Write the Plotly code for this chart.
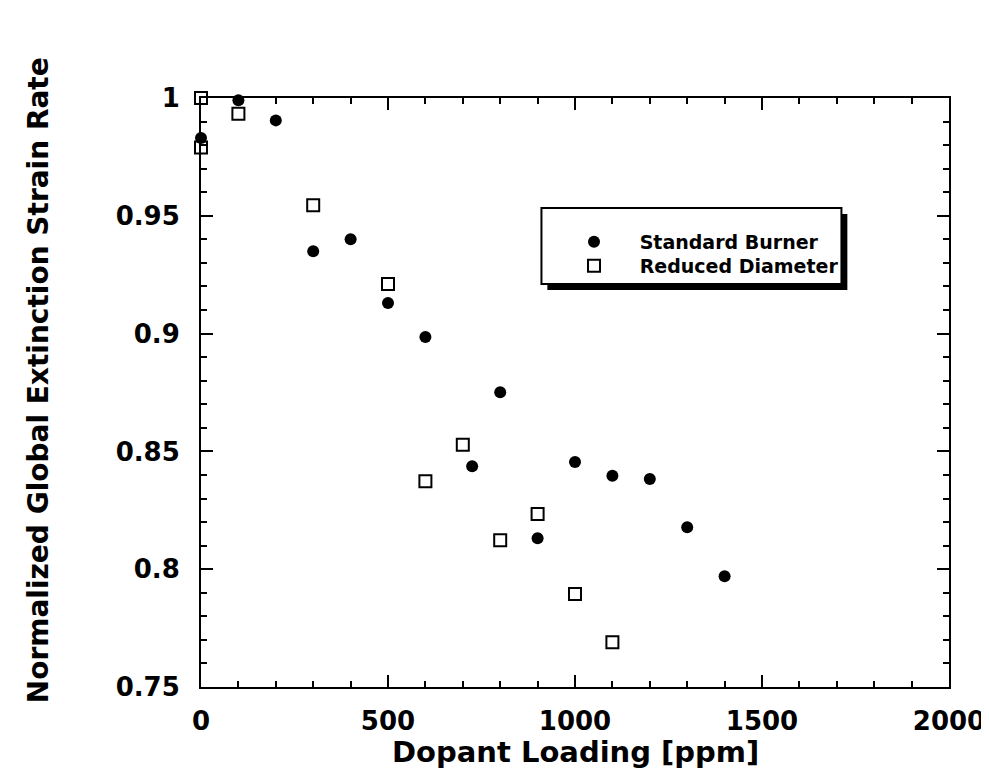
import plotly.graph_objects as go

# Standard burner data
std_x = [0, 100, 200, 300, 400, 500, 600, 725, 800, 900, 1000, 1100, 1200, 1300, 1400]
std_y = [0.983, 0.999, 0.9905, 0.935, 0.940, 0.913, 0.8986, 0.8437, 0.8751, 0.8131,
         0.8455, 0.8397, 0.8383, 0.8178, 0.797]

# Reduced diameter data
red_x = [0, 0, 100, 300, 500, 600, 700, 800, 900, 1000, 1100]
red_y = [1.0, 0.979, 0.9933, 0.9545, 0.921, 0.8373, 0.8528, 0.8123, 0.8234, 0.7895, 0.769]

FONT = "DejaVu Sans"
W, H = 989, 783
L, R, T, B = 193, 38, 90, 104


def px(x):
    return (x - L) / (W - L - R)


def py(y):
    return (H - B - y) / (H - T - B)


gap = '\u2002\u2002\u00a0'
fig = go.Figure()
fig.add_trace(go.Scatter(x=std_x, y=std_y, mode='markers', name=gap + 'Standard Burner',
                         marker=dict(symbol='circle', size=12, color='black'),
                         cliponaxis=False, legend='legend'))
fig.add_trace(go.Scatter(x=red_x, y=red_y, mode='markers', name=gap + 'Reduced Diameter',
                         marker=dict(symbol='square-open', size=12, color='black',
                                     line=dict(width=2, color='black')),
                         cliponaxis=False, legend='legend2'))

axis_common = dict(showline=True, linecolor='black', linewidth=2, mirror='ticks',
                   ticks='inside', ticklen=12, tickwidth=2, tickcolor='black',
                   showgrid=False, zeroline=False,
                   tickfont=dict(family=FONT, size=26, color='black', weight='bold'))

fig.update_xaxes(range=[0, 2000], dtick=500, tick0=0, ticklabelstandoff=10,
                 minor=dict(dtick=100, ticks='inside', ticklen=6, tickwidth=2, tickcolor='black'),
                 **axis_common)
fig.update_yaxes(range=[0.75, 1], dtick=0.05, tick0=0.75, ticklabelstandoff=14,
                 minor=dict(dtick=0.01, ticks='inside', ticklen=6, tickwidth=2, tickcolor='black'),
                 **axis_common)

# legend box with drop shadow
fig.add_shape(type='rect', xref='paper', yref='paper',
              x0=px(544), x1=px(848), y0=py(282), y1=py(206),
              fillcolor='black', line=dict(width=0), layer='above')
fig.add_shape(type='rect', xref='paper', yref='paper',
              x0=px(538), x1=px(842), y0=py(276), y1=py(200),
              fillcolor='white', line=dict(width=2, color='black'), layer='above')

fig.add_annotation(text='Dopant Loading [ppm]', xref='paper', yref='paper',
                   x=0.5, y=py(744), xanchor='center', yanchor='middle', showarrow=False,
                   font=dict(family=FONT, size=29, color='black', weight='bold'))
fig.add_annotation(text='Normalized Global Extinction Strain Rate', xref='paper', yref='paper',
                   x=px(28), y=py(372), xanchor='center', yanchor='middle', showarrow=False,
                   textangle=-90,
                   font=dict(family=FONT, size=28, color='black', weight='bold'))

legend_style = dict(xanchor='left', yanchor='top', bgcolor='rgba(0,0,0,0)', borderwidth=0,
                    font=dict(family=FONT, size=19, color='black', weight='bold'))
fig.update_layout(
    width=W, height=H,
    margin=dict(l=L, r=R, t=T, b=B),
    plot_bgcolor='white', paper_bgcolor='white',
    showlegend=True,
    legend=dict(x=px(571), y=py(215), **legend_style),
    legend2=dict(x=px(571), y=py(239), **legend_style),
)

fig.write_html("out.html")
